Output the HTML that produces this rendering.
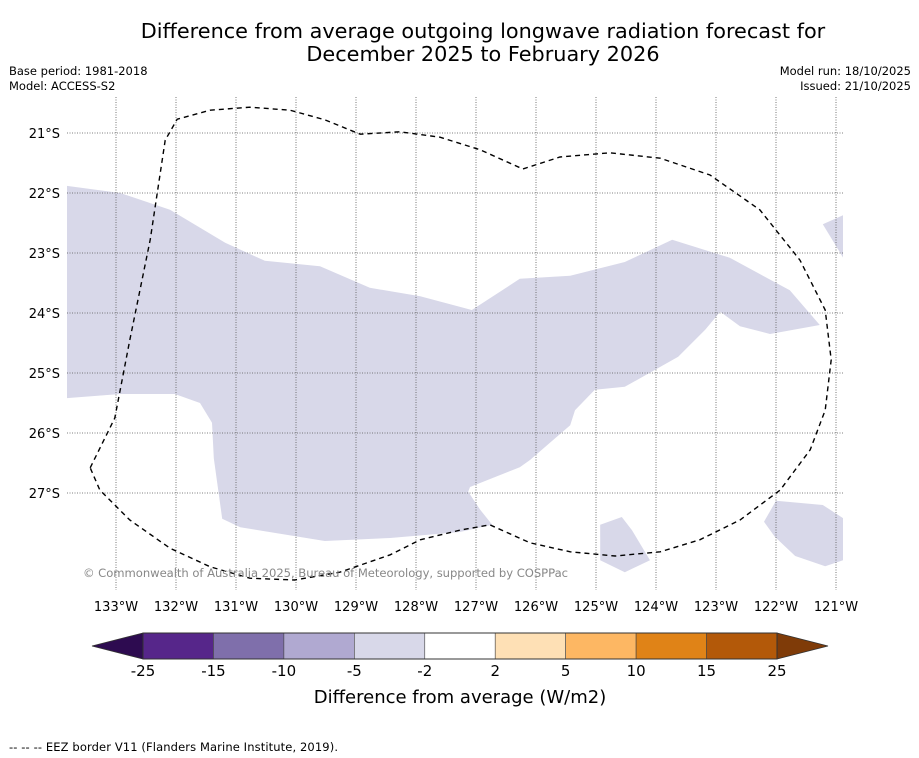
<!DOCTYPE html>
<html><head><meta charset="utf-8"><style>
body{margin:0;background:#fff;font-family:"DejaVu Sans","Liberation Sans",sans-serif;}
svg{display:block}
</style></head><body>
<svg id="chart" width="919" height="758" xmlns="http://www.w3.org/2000/svg">
<rect width="919" height="758" fill="#fff"/>
<text x="483" y="38" font-size="20.8" text-anchor="middle">Difference from average outgoing longwave radiation forecast for</text>
<text x="483" y="61" font-size="20.8" text-anchor="middle">December 2025 to February 2026</text>
<text x="9" y="75" font-size="11.5">Base period: 1981-2018</text>
<text x="9" y="90" font-size="11.5">Model: ACCESS-S2</text>
<text x="911" y="75" font-size="11.5" text-anchor="end">Model run: 18/10/2025</text>
<text x="911" y="90" font-size="11.5" text-anchor="end">Issued: 21/10/2025</text>
<defs><clipPath id="mapclip"><rect x="67" y="97" width="776" height="493"/></clipPath></defs>
<g id="shapes" clip-path="url(#mapclip)"></g>
<g id="grid"></g>
<g id="eez" clip-path="url(#mapclip)"></g>
<text x="83" y="577" font-size="11.6" fill="#888" textLength="485">© Commonwealth of Australia 2025, Bureau of Meteorology, supported by COSPPac</text>
<g id="colorbar"></g>
<text x="460" y="703" font-size="18" text-anchor="middle">Difference from average (W/m2)</text>
<text x="9" y="751" font-size="11.5" textLength="329">--  --  -- EEZ border V11 (Flanders Marine Institute, 2019).</text>
</svg>
<script>
const lonTicks=[-133,-132,-131,-130,-129,-128,-127,-126,-125,-124,-123,-122,-121];
const latTicks=[21,22,23,24,25,26,27];
const mainLon=[-133.82,-132.93,-132.10,-131.18,-130.52,-129.60,-128.77,-127.93,-127.07,-126.27,-125.43,-124.52,-123.73,-122.77,-121.77,-121.27,-122.10,-122.60,-122.93,-123.18,-123.63,-124.52,-125.02,-125.35,-125.43,-126.10,-126.27,-127.10,-127.13,-126.93,-126.73,-127.27,-128.43,-129.52,-130.93,-131.23,-131.37,-131.40,-131.60,-132.02,-132.93,-133.82];
const mainLat=[21.88,22.00,22.28,22.83,23.13,23.22,23.58,23.72,23.95,23.43,23.38,23.15,22.78,23.08,23.62,24.20,24.35,24.22,23.98,24.28,24.73,25.23,25.28,25.62,25.87,26.45,26.57,26.90,26.98,27.28,27.53,27.65,27.75,27.80,27.57,27.43,26.42,25.83,25.50,25.35,25.35,25.42];
const smallLon=[-124.93,-124.57,-124.40,-124.10,-124.52,-124.93];
const smallLat=[27.53,27.40,27.62,28.12,28.32,28.12];
const brLon=[-122.00,-121.22,-120.88,-120.88,-121.18,-121.68,-122.02,-122.20];
const brLat=[27.13,27.20,27.42,28.12,28.22,28.05,27.73,27.48];
const trLon=[-121.22,-120.88,-120.88];
const trLat=[22.52,22.37,23.08];
const eezLon=[-133.43,-133.02,-132.77,-132.43,-132.18,-131.98,-131.43,-130.77,-130.10,-129.52,-128.93,-128.27,-127.60,-126.93,-126.22,-125.60,-124.77,-123.93,-123.10,-122.27,-121.60,-121.18,-121.08,-121.18,-121.43,-121.93,-122.60,-123.27,-123.93,-124.68,-125.43,-126.10,-126.77,-127.27,-127.93,-128.43,-129.27,-130.02,-130.77,-131.43,-132.10,-132.77,-133.27,-133.43];
const eezLat=[26.58,25.75,24.45,22.78,21.12,20.77,20.62,20.57,20.62,20.78,21.02,20.98,21.07,21.28,21.60,21.40,21.33,21.42,21.70,22.28,23.12,23.95,24.78,25.62,26.28,26.95,27.45,27.78,27.98,28.05,27.98,27.83,27.53,27.62,27.78,28.03,28.32,28.45,28.42,28.23,27.92,27.45,26.95,26.58];
const cbBounds=[-25,-15,-10,-5,-2,2,5,10,15,25];
const cbColors=["#56268a","#7f6fab","#b0a9d1","#d8d8e9","#ffffff","#fee0b5","#fdb763","#e08317","#b35909"];
const cbLow="#2d0b50", cbHigh="#7f3b08";

const NS="http://www.w3.org/2000/svg";
const xS=lon=>116+(lon+133)*60;
const yS=lat=>133+(lat-21)*60;
function mk(t,a,p){const e=document.createElementNS(NS,t);for(const k in a)e.setAttribute(k,a[k]);p.appendChild(e);return e;}
function pts(lo,la){return lo.map((v,i)=>xS(v).toFixed(1)+","+yS(la[i]).toFixed(1)).join(" ");}
const shapes=document.getElementById('shapes');
[[mainLon,mainLat,'anomaly-region-main'],[smallLon,smallLat,'anomaly-region-south'],[brLon,brLat,'anomaly-region-southeast'],[trLon,trLat,'anomaly-region-northeast']].forEach(s=>{
 const p=mk('polygon',{points:pts(s[0],s[1]),fill:'#d8d8e9'},shapes);
 
 
});
const grid=document.getElementById('grid');
lonTicks.forEach(l=>{
 const x=xS(l);
 const ln=mk('line',{x1:x,x2:x,y1:97,y2:590,stroke:'#555','stroke-width':0.8,'stroke-dasharray':'1,1.5'},grid);
 
 
 const t=mk('text',{x:x,y:611,'font-size':13,'text-anchor':'middle'},grid);
 t.textContent=Math.abs(l)+"°W";
 
 
});
latTicks.forEach(l=>{
 const y=yS(l);
 const ln=mk('line',{x1:67,x2:843,y1:y,y2:y,stroke:'#555','stroke-width':0.8,'stroke-dasharray':'1,1.5'},grid);
 
 
 const t=mk('text',{x:60,y:y+5,'font-size':13,'text-anchor':'end'},grid);
 t.textContent=l+"°S";
 
 
});
const eez=document.getElementById('eez');
const ep=mk('polyline',{points:pts(eezLon,eezLat),fill:'none',stroke:'#000','stroke-width':1.4,'stroke-dasharray':'5,4'},eez);



const cb=document.getElementById('colorbar');
const cx0=143,cx1=777,cy0=633,cy1=659;
const n=cbColors.length, w=(cx1-cx0)/n;
const lt=mk('polygon',{points:`92,646 ${cx0},${cy0} ${cx0},${cy1}`,fill:cbLow,stroke:'#333','stroke-width':0.8},cb);


const rt=mk('polygon',{points:`828,646 ${cx1},${cy0} ${cx1},${cy1}`,fill:cbHigh,stroke:'#333','stroke-width':0.8},cb);


cbColors.forEach((c,i)=>{
 const r=mk('rect',{x:cx0+i*w,y:cy0,width:w,height:cy1-cy0,fill:c,stroke:'#444','stroke-width':0.6},cb);
 
 
});
mk('rect',{x:cx0,y:cy0,width:cx1-cx0,height:cy1-cy0,fill:'none',stroke:'#333','stroke-width':1},cb);
cbBounds.forEach((b,i)=>{
 const t=mk('text',{x:cx0+i*w,y:676,'font-size':15,'text-anchor':'middle'},cb);
 t.textContent=b;
 
 
});
</script>
</body></html>
